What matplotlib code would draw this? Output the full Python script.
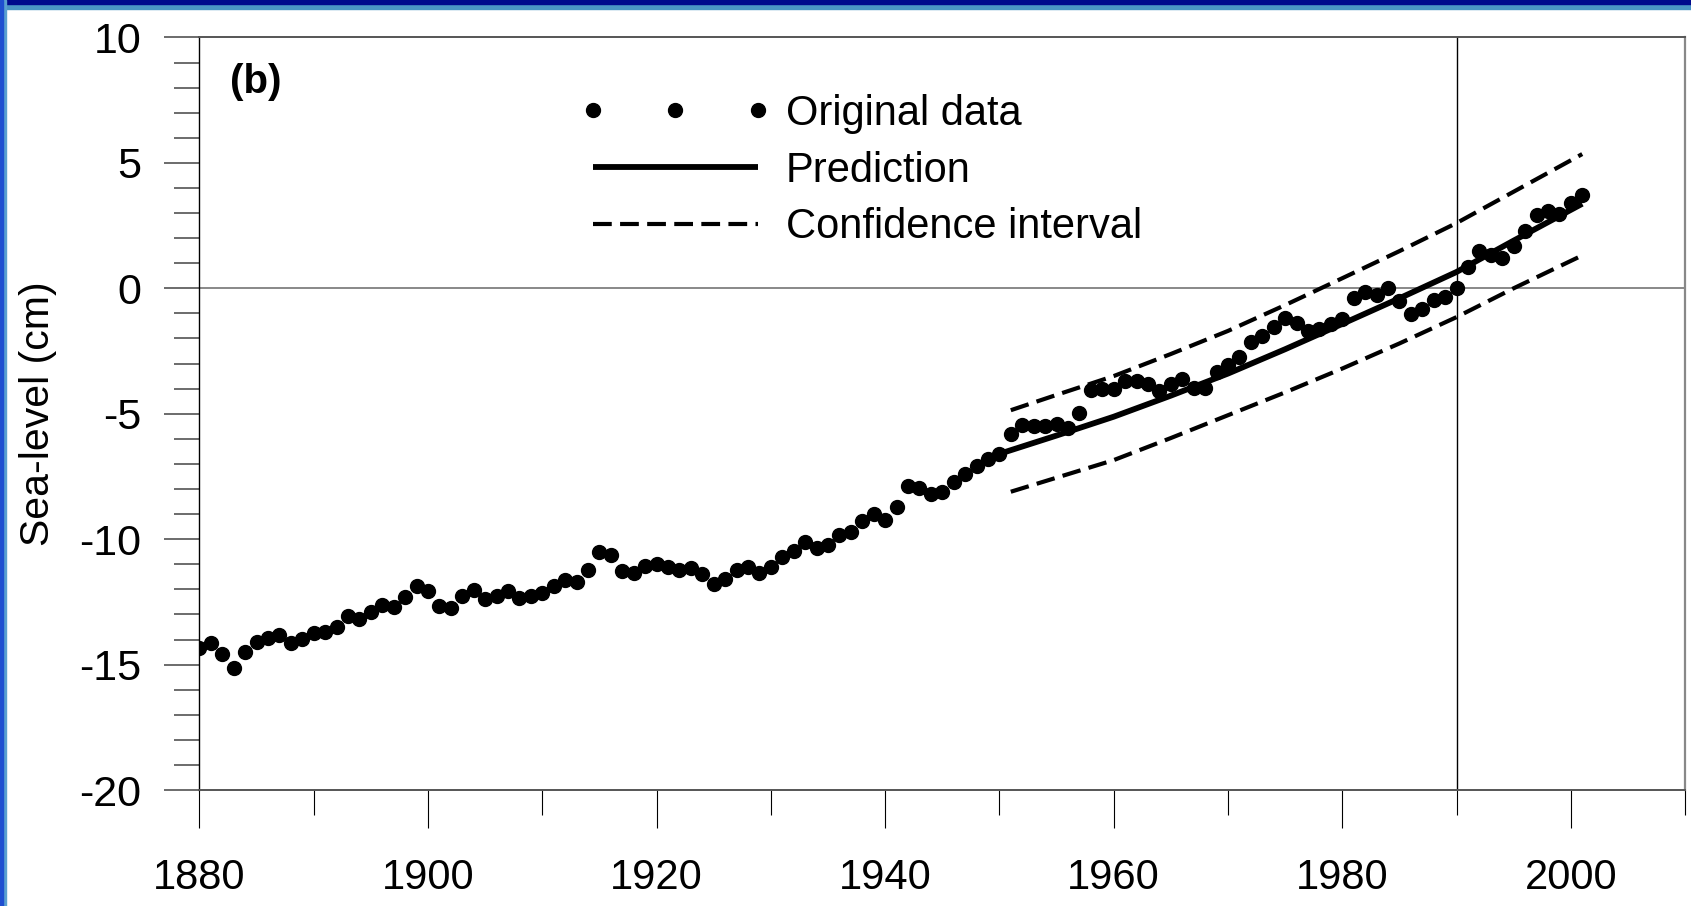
#!/usr/bin/python

import numpy as np
import matplotlib
matplotlib.use('Agg')
import matplotlib.pyplot as plt
from matplotlib.patches import Rectangle
from matplotlib.lines import Line2D
from matplotlib.ticker import MultipleLocator
from matplotlib.legend_handler import HandlerLine2D

### Annual sea-level (cm), 1880-2001
years = list(range(1880, 2002))
sealevel = [
  -14.35, -14.13, -14.58, -15.13, -14.51, -14.10, -13.92, -13.83, -14.14, -13.99,
  -13.73, -13.72, -13.52, -13.05, -13.19, -12.92, -12.62, -12.72, -12.31, -11.85,
  -12.06, -12.67, -12.75, -12.27, -12.03, -12.38, -12.27, -12.07, -12.33, -12.26,
  -12.14, -11.85, -11.61, -11.71, -11.24, -10.51, -10.62, -11.27, -11.34, -11.08,
  -11.00, -11.10, -11.24, -11.14, -11.37, -11.80, -11.57, -11.21, -11.10, -11.33,
  -11.10, -10.70, -10.47, -10.13, -10.34, -10.24, -9.84, -9.71, -9.27, -8.98,
  -9.22, -8.70, -7.89, -7.95, -8.18, -8.14, -7.72, -7.41, -7.09, -6.80,
  -6.59, -5.81, -5.44, -5.49, -5.48, -5.40, -5.55, -4.96, -4.06, -4.00,
  -4.00, -3.69, -3.69, -3.83, -4.09, -3.80, -3.60, -3.97, -3.97, -3.33,
  -3.04, -2.74, -2.14, -1.91, -1.54, -1.17, -1.37, -1.70, -1.61, -1.43,
  -1.21, -0.39, -0.16, -0.26, 0.00, -0.51, -1.01, -0.81, -0.48, -0.35,
  0.00, 0.85, 1.49, 1.31, 1.22, 1.67, 2.27, 2.91, 3.07, 2.97,
  3.40, 3.71]

### Prediction and confidence band
pred_years = [1950, 1955, 1960, 1965, 1970, 1975, 1980, 1985, 1990, 1995, 2001]
pred = [-6.60, -5.87, -5.12, -4.28, -3.40, -2.43, -1.42, -0.40, 0.65, 1.90, 3.37]
ci_years = [1951, 1955, 1960, 1965, 1970, 1975, 1980, 1985, 1990, 1995, 2001]
ci_upper = [-4.86, -4.25, -3.50, -2.62, -1.70, -0.67, 0.40, 1.48, 2.60, 3.85, 5.35]
ci_lower = [-8.11, -7.55, -6.85, -5.97, -5.06, -4.15, -3.20, -2.20, -1.15, 0.00, 1.31]

plt.rcParams['font.family'] = ['Liberation Sans', 'DejaVu Sans']
plt.rcParams['axes.unicode_minus'] = False

fig = plt.figure(figsize=(16.91, 9.06), dpi=100)
ax = fig.add_axes([0.1179, 0.128, 0.9965 - 0.1179, 0.9587 - 0.128])

### Reference lines
ax.axhline(0, color='#7f7f7f', lw=1.3, zorder=1)
ax.axvline(1990, color='black', lw=1.0, zorder=1)

### Data, prediction, confidence interval
ax.plot(years, sealevel, 'o', color='black', ms=10, mec='black',
  label='Original data', zorder=4)
ax.plot(pred_years, pred, '-', color='black', lw=4.2, solid_capstyle='butt',
  label='Prediction', zorder=3)
ax.plot(ci_years, ci_upper, '--', color='black', lw=3.0, dashes=(4.5, 2.0),
  label='Confidence interval', zorder=3)
ax.plot(ci_years, ci_lower, '--', color='black', lw=3.0, dashes=(4.5, 2.0),
  zorder=3)

ax.set_xlim(1880, 2010)
ax.set_ylim(-20, 10)

ax.xaxis.set_major_locator(MultipleLocator(20))
ax.xaxis.set_minor_locator(MultipleLocator(10))
ax.yaxis.set_major_locator(MultipleLocator(5))
ax.yaxis.set_minor_locator(MultipleLocator(1))

ax.tick_params(axis='x', which='major', direction='out', length=27, width=0.8,
  pad=22, labelsize=30, colors='black')
ax.tick_params(axis='x', which='minor', direction='out', length=18, width=0.8)
ax.tick_params(axis='y', which='major', direction='out', length=25, width=1.1,
  pad=17, labelsize=31, color='#444444', labelcolor='black')
ax.tick_params(axis='y', which='minor', direction='out', length=18, width=1.1,
  color='#444444')

for side in ['top', 'bottom']:
  ax.spines[side].set_color('#555555')
  ax.spines[side].set_linewidth(1.4)
ax.spines['right'].set_color('#888888')
ax.spines['right'].set_linewidth(1.6)
ax.spines['left'].set_color('black')
ax.spines['left'].set_linewidth(1.0)

ax.set_ylabel('Sea-level (cm)', fontsize=29.5)
ax.yaxis.set_label_coords(-0.0955, 0.5)

ax.text(0.0207, 0.9407, '(b)', transform=ax.transAxes, fontsize=29,
  fontweight='bold', ha='left', va='center')

ax.legend(loc='upper left', bbox_to_anchor=(0.2636, 0.925), frameon=False,
  fontsize=30, numpoints=3, handlelength=4.05, handletextpad=0.62,
  labelspacing=0.4, borderpad=0, borderaxespad=0,
  handler_map={Line2D: HandlerLine2D(marker_pad=0.05)})

### Window frame edges
fig.patches.append(Rectangle((0, 1 - 9.0 / 906), 1, 9.0 / 906,
  transform=fig.transFigure, color='#4b94c4', zorder=0))
fig.patches.append(Rectangle((0, 1 - 3.5 / 906), 1, 3.5 / 906,
  transform=fig.transFigure, color='#00088c', zorder=0))
fig.patches.append(Rectangle((0, 0), 6.0 / 1691, 1,
  transform=fig.transFigure, color='#5aa0d0', zorder=0))
fig.patches.append(Rectangle((0, 0), 2.5 / 1691, 1,
  transform=fig.transFigure, color='#1f4fd0', zorder=0))

plt.savefig('out.png', dpi=100)
